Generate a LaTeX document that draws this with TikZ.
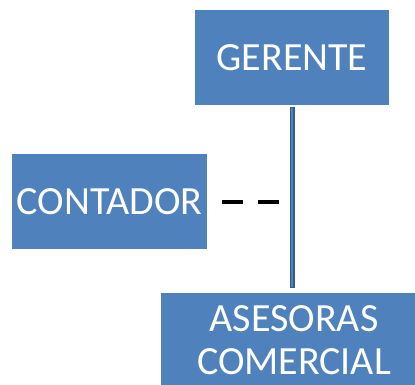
\documentclass[tikz,border=0pt]{standalone}
\usepackage{fontspec}
\setmainfont{Carlito}
\usetikzlibrary{positioning}
\tikzset{cargo/.style={rectangle,fill=cargoazul,text=white,inner sep=0pt,
        font=\fontsize{40}{43}\selectfont,align=center}}
\definecolor{cargoazul}{HTML}{4F81BD}
\definecolor{lineaborde}{HTML}{385D8A}

\begin{document}
\begin{tikzpicture}[x=1pt,y=-1pt]
            \useasboundingbox (0,0) rectangle (415,384);
            \node[cargo,minimum width=194pt,minimum height=95pt] (gerente) at (292,57.5) {GERENTE};
            \node[cargo,minimum width=195pt,minimum height=95pt] (contador) at (109.5,201.5) {CONTADOR};
            \node[cargo,minimum width=266pt,minimum height=95pt] (asesoras) at (294,340.5) {ASESORAS\\COMERCIAL};
            \coordinate (tronco) at (gerente.south |- contador.east);
            % linea de mando
            \draw[lineaborde,line width=5pt,shorten <=2pt,shorten >=5pt]
                (gerente.south) -- (gerente.south |- asesoras.north);
            \draw[cargoazul,line width=2pt,shorten <=3pt,shorten >=6pt]
                (gerente.south) -- (gerente.south |- asesoras.north);
            % asesoria
            \draw[black,line width=4pt,dash pattern=on 21pt off 15pt,shorten <=15pt,shorten >=12pt]
                (contador.east) -- (tronco);
        \end{tikzpicture}
\end{document}
